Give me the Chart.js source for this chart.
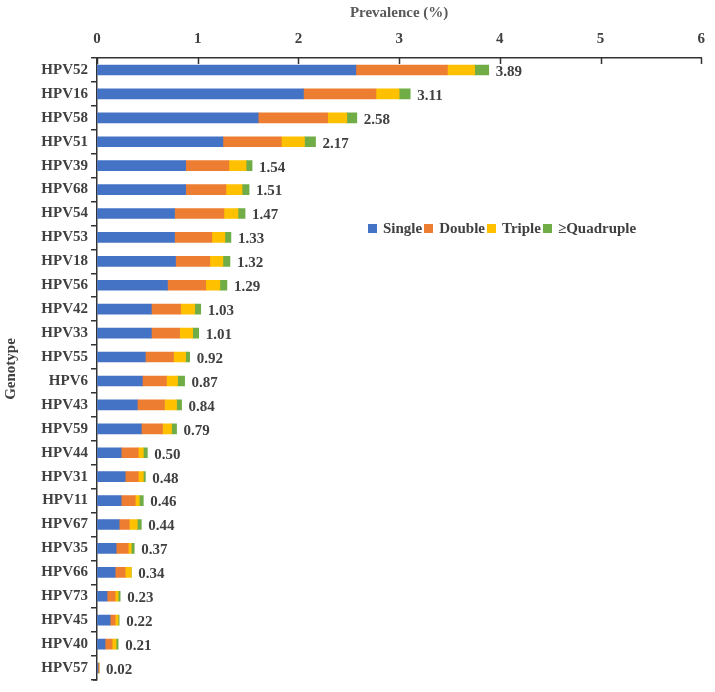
<!DOCTYPE html>
<html>
<head>
<meta charset="utf-8">
<script src="https://cdn.jsdelivr.net/npm/chart.js@4"></script>
<style>
  html, body { margin: 0; padding: 0; background: #fff; }
  #wrap { position: relative; width: 715px; height: 692px; }
  #legend {
    position: absolute; left: 368px; top: 220px;
    font: bold 15px "Liberation Serif", "Times New Roman", serif; color: #404040;
    white-space: nowrap;
  }
  #legend span.box { display: inline-block; width: 9px; height: 9px; margin-right: 6px; vertical-align: 0px; }
  #legend span.item { margin-right: 2px; }
</style>
</head>
<body>
<div id="wrap">
  <canvas id="hpvChart" width="715" height="692"></canvas>
  <div id="legend"></div>
</div>
<script>
// genotypes, top to bottom
const genotypes = ['HPV52', 'HPV16', 'HPV58', 'HPV51', 'HPV39', 'HPV68', 'HPV54', 'HPV53', 'HPV18',
    'HPV56', 'HPV42', 'HPV33', 'HPV55', 'HPV6', 'HPV43', 'HPV59', 'HPV44', 'HPV31', 'HPV11',
    'HPV67', 'HPV35', 'HPV66', 'HPV73', 'HPV45', 'HPV40', 'HPV57'];

// prevalence (%) per infection type
const single    = [2.57, 2.05, 1.60, 1.25, 0.88, 0.88, 0.77, 0.77, 0.78, 0.70, 0.54, 0.54, 0.48,
    0.45, 0.40, 0.44, 0.24, 0.28, 0.24, 0.22, 0.19, 0.18, 0.10, 0.13, 0.08, 0.01];
const double    = [0.91, 0.72, 0.69, 0.58, 0.43, 0.40, 0.49, 0.37, 0.34, 0.38, 0.29, 0.28, 0.28,
    0.24, 0.27, 0.21, 0.17, 0.13, 0.14, 0.10, 0.12, 0.10, 0.08, 0.05, 0.07, 0.01];
const triple    = [0.27, 0.23, 0.19, 0.23, 0.17, 0.16, 0.14, 0.13, 0.13, 0.14, 0.14, 0.13, 0.12,
    0.11, 0.12, 0.09, 0.05, 0.05, 0.04, 0.08, 0.03, 0.06, 0.03, 0.03, 0.04, 0];
const quadruple = [0.14, 0.11, 0.10, 0.11, 0.06, 0.07, 0.07, 0.06, 0.07, 0.07, 0.06, 0.06, 0.04,
    0.07, 0.05, 0.05, 0.04, 0.02, 0.04, 0.04, 0.03, 0, 0.02, 0.01, 0.02, 0];

const xTicks = [0, 1, 2, 3, 4, 5, 6];

const seriesNames = ['Single', 'Double', 'Triple', '\u2265Quadruple'];
const seriesColors = ['#4472C4', '#ED7D31', '#FFC000', '#70AD47'];

const totals = genotypes.map((g, i) => single[i] + double[i] + triple[i] + quadruple[i]);

const FONT = '"Liberation Serif", "Times New Roman", serif';
const TXT = '#404040';

// total at the end of each bar + inner ticks on the top axis
const extras = {
    id: 'extras',
    afterDatasetsDraw(chart) {
        const ctx = chart.ctx;
        const xs = chart.scales.x, ys = chart.scales.y;
        const area = chart.chartArea;
        ctx.save();
        ctx.font = 'bold 15px ' + FONT;
        ctx.fillStyle = TXT;
        ctx.textBaseline = 'middle';
        totals.forEach((t, i) => {
            ctx.fillText(t.toFixed(2), xs.getPixelForValue(t) + 7, ys.getPixelForValue(i) + 2);
        });
        // top axis ticks pointing down
        ctx.strokeStyle = '#333';
        ctx.lineWidth = 1.5;
        xTicks.forEach(v => {
            const px = Math.round(xs.getPixelForValue(v)) + 0.5;
            ctx.beginPath();
            ctx.moveTo(px, area.top);
            ctx.lineTo(px, area.top + 6);
            ctx.stroke();
        });
        // closing tick at the bottom of the category axis
        ctx.beginPath();
        ctx.moveTo(area.left, area.bottom);
        ctx.lineTo(area.left - 4, area.bottom);
        ctx.stroke();
        ctx.restore();
    }
};

const ctx = document.getElementById('hpvChart').getContext('2d');
const hpvChart = new Chart(ctx, {
    type: 'bar',
    data: {
        labels: genotypes,
        datasets: [single, double, triple, quadruple].map((d, k) => ({
            label: seriesNames[k],
            data: d,
            backgroundColor: seriesColors[k],
            barThickness: 10,
            borderWidth: 0
        }))
    },
    options: {
        indexAxis: 'y',
        responsive: false,
        animation: false,
        layout: { padding: { left: 0, right: 9, top: 0, bottom: 10 } },
        scales: {
            x: {
                position: 'top',
                stacked: true,
                min: 0,
                max: 6,
                afterBuildTicks: scale => { scale.ticks = xTicks.map(v => ({ value: v })); },
                afterFit: scale => { scale.height = 58; },
                grid: { display: true, drawOnChartArea: false, drawTicks: false },
                border: { display: true, color: '#333', width: 1.5 },
                ticks: {
                    padding: 10,
                    color: TXT,
                    font: { family: FONT, size: 15, weight: 'bold' }
                },
                title: {
                    display: true,
                    text: 'Prevalence (%)',
                    color: '#595959',
                    padding: { top: 4, bottom: 0 },
                    font: { family: FONT, size: 15, weight: 'bold' }
                }
            },
            y: {
                stacked: true,
                afterFit: scale => { scale.width = 97; },
                grid: { display: true, drawOnChartArea: false, tickLength: 6, color: '#333', lineWidth: 1.5 },
                border: { display: true, color: '#333', width: 1.5 },
                ticks: {
                    padding: 3,
                    color: TXT,
                    font: { family: FONT, size: 15, weight: 'bold' }
                },
                title: {
                    display: true,
                    text: 'Genotype',
                    color: TXT,
                    padding: { top: 2, bottom: 0 },
                    font: { family: FONT, size: 15, weight: 'bold' }
                }
            }
        },
        plugins: {
            legend: { display: false },
            tooltip: { enabled: false }
        }
    },
    plugins: [extras]
});

// legend
const legendEl = document.getElementById('legend');
seriesNames.forEach((name, k) => {
    const item = document.createElement('span');
    item.className = 'item';
    const box = document.createElement('span');
    box.className = 'box';
    box.style.background = seriesColors[k];
    item.appendChild(box);
    item.appendChild(document.createTextNode(name));
    legendEl.appendChild(item);
});
</script>
</body>
</html>
